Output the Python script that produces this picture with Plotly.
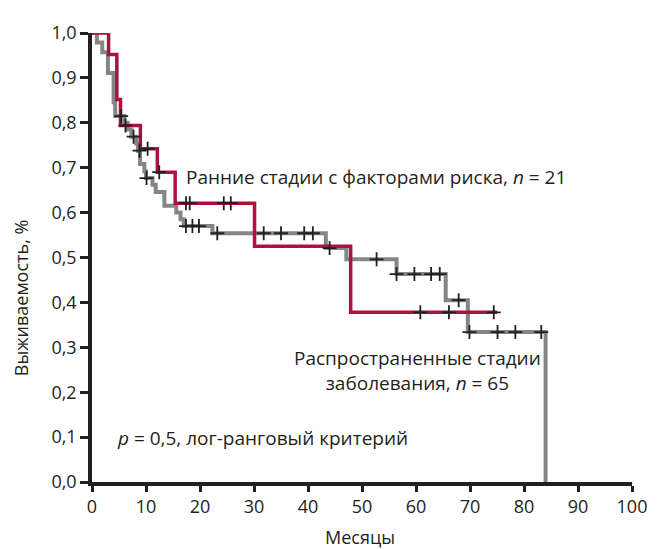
import plotly.graph_objects as go

# ---- data ----
red_t = [0, 3.07, 4.6, 5.28, 8.96, 12.1, 15.4, 30.1, 47.9, 75.0]
red_s = [1.0, 0.952, 0.852, 0.794, 0.742, 0.690, 0.621, 0.525, 0.378, 0.378]
red_cens_t = [6.2, 10.3, 12.45, 17.4, 18.1, 24.4, 25.7, 60.8, 66.1, 74.4]
red_cens_s = [0.794, 0.742, 0.690, 0.621, 0.621, 0.621, 0.621, 0.378, 0.378, 0.378]

gray_t = [0, 0.9, 1.9, 2.95, 4.0, 4.3, 6.0, 6.6, 7.3, 8.2, 8.5, 8.9, 9.7, 10.0,
          11.2, 11.8, 13.4, 15.6, 16.4, 17.0, 22.3, 43.3, 47.1, 56.4, 65.5, 69.6, 84.0]
gray_s = [1.0, 0.979, 0.957, 0.911, 0.846, 0.815, 0.800, 0.785, 0.769, 0.754, 0.738,
          0.708, 0.692, 0.677, 0.662, 0.646, 0.615, 0.600, 0.585, 0.570, 0.554, 0.521,
          0.496, 0.463, 0.405, 0.334, 0.0]
gray_cens_t = [5.4, 7.7, 8.8, 10.1, 17.4, 18.6, 19.8, 23.2, 31.8, 35.0, 39.3, 40.9,
               44.0, 52.7, 56.4, 59.7, 62.8, 64.4, 67.9, 69.9, 75.1, 78.4, 83.2]
gray_cens_s = [0.815, 0.769, 0.738, 0.677, 0.570, 0.570, 0.570, 0.554, 0.554, 0.554,
               0.554, 0.554, 0.521, 0.496, 0.463, 0.463, 0.463, 0.463, 0.405, 0.334,
               0.334, 0.334, 0.334]

x_ticks = [0, 10, 20, 30, 40, 50, 60, 70, 80, 90, 100]
y_ticks = [0.0, 0.1, 0.2, 0.3, 0.4, 0.5, 0.6, 0.7, 0.8, 0.9, 1.0]
y_tick_text = ["0,0", "0,1", "0,2", "0,3", "0,4", "0,5", "0,6", "0,7", "0,8", "0,9", "1,0"]

label_early = "Ранние стадии с факторами риска, <i>n</i> = 21"
label_adv = "Распространенные стадии<br>заболевания, <i>n</i> = 65"
label_p = "<i>p</i> = 0,5, лог-ранговый критерий"
x_title = "Месяцы"
y_title = "Выживаемость, %"

RED = "#b0103c"
GRAY = "#858585"
INK = "#231f20"
FONT = "Open Sans"

fig = go.Figure()
fig.add_trace(go.Scatter(x=gray_t, y=gray_s, mode="lines", line=dict(shape="hv", color=GRAY, width=4),
                         showlegend=False, hoverinfo="skip"))
fig.add_trace(go.Scatter(x=red_t, y=red_s, mode="lines", line=dict(shape="hv", color=RED, width=3.5),
                         showlegend=False, hoverinfo="skip"))
fig.add_trace(go.Scatter(x=gray_cens_t, y=gray_cens_s, mode="markers",
                         marker=dict(symbol="cross-thin", size=10, line=dict(color=INK, width=1.8)),
                         showlegend=False, hoverinfo="skip"))
fig.add_trace(go.Scatter(x=red_cens_t, y=red_cens_s, mode="markers",
                         marker=dict(symbol="cross-thin", size=10, line=dict(color=INK, width=1.8)),
                         showlegend=False, hoverinfo="skip"))

fig.add_annotation(x=17.05, y=0.679, xref="x", yref="y", text=label_early, showarrow=False,
                   xanchor="left", yanchor="middle", font=dict(family=FONT, size=19, color=INK))
fig.add_annotation(x=60.2, y=0.248, xref="x", yref="y", text=label_adv, showarrow=False,
                   xanchor="center", yanchor="middle", align="center",
                   font=dict(family=FONT, size=19, color=INK))
fig.add_annotation(x=4.3, y=0.097, xref="x", yref="y", text=label_p, showarrow=False,
                   xanchor="left", yanchor="middle", font=dict(family=FONT, size=19, color=INK))

# axis titles as annotations (placed relative to the plot area)
fig.add_annotation(x=0.497, y=-0.1216, xref="paper", yref="paper", text=x_title, showarrow=False,
                   xanchor="center", yanchor="middle", font=dict(family=FONT, size=18, color=INK))
fig.add_annotation(x=-0.131, y=0.41, xref="paper", yref="paper", text=y_title, showarrow=False,
                   textangle=-90, xanchor="center", yanchor="middle",
                   font=dict(family=FONT, size=18, color=INK))

fig.update_xaxes(range=[0, 100], tickvals=x_ticks, ticks="outside", ticklen=6, tickwidth=3,
                 tickcolor=INK, showline=True, linecolor=INK, linewidth=3.5, showgrid=False,
                 zeroline=False, tickfont=dict(family=FONT, size=18, color=INK))
fig.update_yaxes(range=[0, 1.0], tickvals=y_ticks, ticktext=y_tick_text, ticks="outside",
                 ticklen=8, tickwidth=3, tickcolor=INK, showline=True, linecolor=INK,
                 linewidth=3.5, showgrid=False, zeroline=False,
                 tickfont=dict(family=FONT, size=18, color=INK))

# the page body adds an 8px margin, so the figure is 8px smaller and the plot
# area keeps its place in the 659x549 window
fig.update_layout(width=651, height=541, margin=dict(l=84, r=23, t=15, b=67),
                  plot_bgcolor="white", paper_bgcolor="white")

fig.write_html("out.html")
